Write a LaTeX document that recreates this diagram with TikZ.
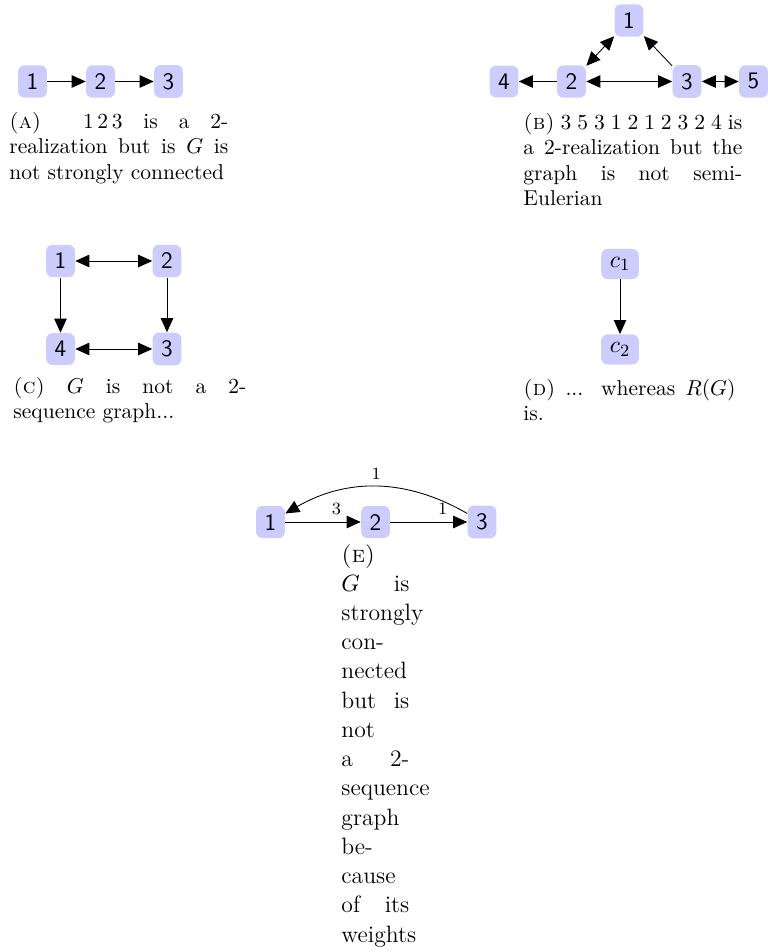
\documentclass[tikz,border=0pt]{standalone}
\usetikzlibrary{arrows.meta}
% one justified caption line: ordinary (stretchable) interword glue,
% stretched or shrunk to the full width of the caption
\newcommand\jline[1]{\makebox[\hsize][s]{\spaceskip=0pt\xspaceskip=0pt #1}}

\begin{document}
\begin{tikzpicture}[x=0.465pt,y=-0.465pt,
  vtx/.style={rectangle, rounded corners=3pt, fill=blue!20,
    font=\fontsize{11}{13}\selectfont\sffamily, inner xsep=4pt, inner ysep=3.8pt},
  headtip/.tip={Triangle[length=6.5pt,width=5.8pt]},
  oneway/.style={-headtip, line width=0.4pt},
  twoway/.style={headtip-headtip, line width=0.4pt},
  captext/.style={anchor=base west, inner sep=0pt, align=left,
    font=\fontsize{10}{11.75}\selectfont},
  wlabel/.style={font=\fontsize{8}{9.5}\selectfont, above}]

\useasboundingbox (0,0) rectangle (767,952);

% (a) a path 1 -> 2 -> 3
\node[vtx] (a1) at (32.5,81.5) {1};
\node[vtx] (a2) at (100.5,81.5) {2};
\node[vtx] (a3) at (168.5,81.5) {3};
\draw[oneway] (a1) -- (a2);
\draw[oneway] (a2) -- (a3);
\node[captext, text width=101.8pt] (capa) at (9,128.5) {%
  \jline{\textsc{(a)}\ \ $1\,2\,3$ is a 2-}\\
  \jline{realization but is $G$ is}\\
  not strongly connected};

% (b) five vertices
\node[vtx] (b1) at (629,20.5) {1};
\node[vtx] (b4) at (504,81.5) {4};
\node[vtx] (b2) at (571.5,81.5) {2};
\node[vtx] (b3) at (687,81.5) {3};
\node[vtx] (b5) at (753.5,81.5) {5};
\draw[oneway] (b2) -- (b4);
\draw[twoway] (b2) -- (b3);
\draw[twoway] (b3) -- (b5);
\draw[twoway] (b2) -- (b1);
\draw[oneway] (b3) -- (b1);
\node[captext, text width=101.8pt] (capb) at (523,129.5) {%
  \jline{\textsc{(b)} 3 5 3 1 2 1 2 3 2 4 is}\\
  \jline{a 2-realization but the}\\
  \jline{graph is not semi-}\\
  Eulerian};

% (c) a square
\node[vtx] (c1) at (60.5,261) {1};
\node[vtx] (c2) at (167,261) {2};
\node[vtx] (c4) at (60.5,349) {4};
\node[vtx] (c3) at (167,349) {3};
\draw[twoway] (c1) -- (c2);
\draw[twoway] (c4) -- (c3);
\draw[oneway] (c1) -- (c4);
\draw[oneway] (c2) -- (c3);
\node[captext, text width=108.3pt] (capc) at (13,393) {%
  \jline{\textsc{(c)} $G$ is not a 2-}\\
  sequence graph...};

% (d) the reduced graph
\node[vtx] (d1) at (620,264) {$c_1$};
\node[vtx] (d2) at (620,349.5) {$c_2$};
\draw[oneway] (d1) -- (d2);
\node[captext, text width=98.6pt] (capd) at (523,395) {%
  \jline{\textsc{(d)} ... whereas $R(G)$}\\
  is.};

% (e) a weighted cycle
\node[vtx] (e1) at (270.5,522) {1};
\node[vtx] (e2) at (375.5,522) {2};
\node[vtx] (e3) at (482,522) {3};
\draw[oneway] (e1) -- node[wlabel, pos=0.68] {3} (e2);
\draw[oneway] (e2) -- node[wlabel, pos=0.68] {1} (e3);
\draw[oneway] (e3) to[bend right=30] node[wlabel] {1} (e1);
\node[captext, text width=31.6pt, font=\fontsize{11}{13.6}\selectfont] (cape) at (341,562) {%
  \textsc{(e)}\\
  \jline{$G$ is}\\
  strongly\\
  con-\\
  nected\\
  \jline{but is}\\
  not\\
  \jline{a 2-}\\
  sequence\\
  graph\\
  be-\\
  cause\\
  \jline{of its}\\
  weights};
\end{tikzpicture}
\end{document}
